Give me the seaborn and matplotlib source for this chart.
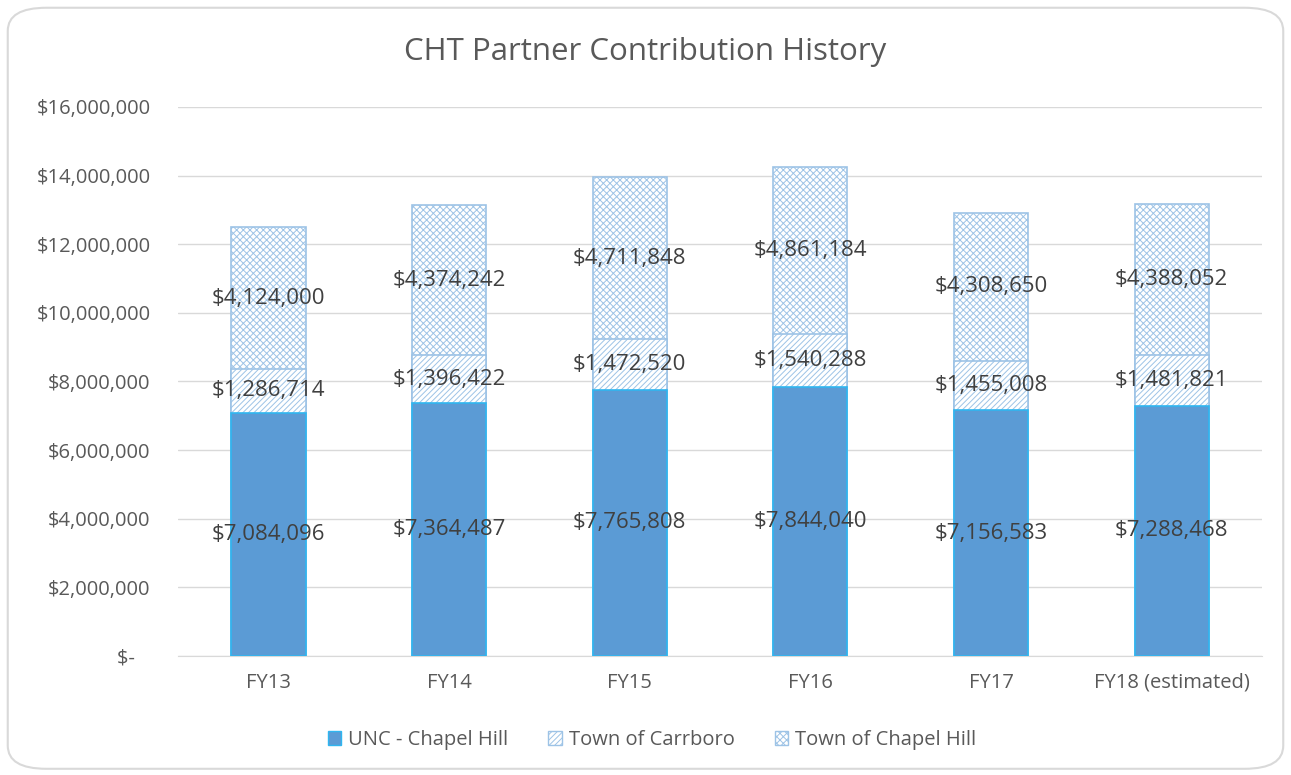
import numpy as np
import pandas as pd
import matplotlib
matplotlib.use("Agg")
import matplotlib.pyplot as plt
from matplotlib.patches import FancyBboxPatch, Patch
from matplotlib.ticker import FuncFormatter
import seaborn as sns

# data
years = ["FY13", "FY14", "FY15", "FY16", "FY17", "FY18 (estimated)"]
unc = [7084096, 7364487, 7765808, 7844040, 7156583, 7288468]
carrboro = [1286714, 1396422, 1472520, 1540288, 1455008, 1481821]
chapel_hill = [4124000, 4374242, 4711848, 4861184, 4308650, 4388052]
series_names = ["UNC - Chapel Hill", "Town of Carrboro", "Town of Chapel Hill"]

sns.set_style("white")
plt.rcParams["font.family"] = ["Open Sans", "DejaVu Sans"]
plt.rcParams["hatch.linewidth"] = 0.7

df = pd.DataFrame({"year": years, "unc": unc, "carr": carrboro, "ch": chapel_hill})
df["lvl2"] = df["unc"] + df["carr"]
df["lvl3"] = df["lvl2"] + df["ch"]

fig = plt.figure(figsize=(12.91, 7.75), dpi=100, facecolor="white")
fig.patches.append(FancyBboxPatch((0.006, 0.008), 0.988, 0.982, boxstyle="round,pad=0,rounding_size=0.03",
                                  transform=fig.transFigure, facecolor="none", edgecolor="#D9D9D9",
                                  linewidth=1.5, zorder=-1))
ax = fig.add_axes([0.138, 0.1535, 0.8395, 0.7085])
ax.set_facecolor("none")

light_edge = "#9DC3E6"
w = 0.41
# draw layers back to front so each stack segment shows
sns.barplot(data=df, x="year", y="lvl3", ax=ax, color="white", width=w, saturation=1,
            edgecolor=light_edge, hatch="xxxxx", linewidth=1.2, zorder=2)
sns.barplot(data=df, x="year", y="lvl2", ax=ax, color="white", width=w, saturation=1,
            edgecolor=light_edge, hatch="//////", linewidth=1.2, zorder=3)
sns.barplot(data=df, x="year", y="unc", ax=ax, color="#5B9BD5", width=w, saturation=1,
            edgecolor="#2FB6F0", linewidth=1.2, zorder=4)

lab_color = "#404040"
fs = 16
for i in range(len(years)):
    ax.text(i, unc[i] / 2, f"${unc[i]:,}", ha="center", va="center", fontsize=fs, color=lab_color, zorder=5)
    ax.text(i, unc[i] + carrboro[i] / 2, f"${carrboro[i]:,}", ha="center", va="center", fontsize=fs,
            color=lab_color, zorder=5)
    ax.text(i, df["lvl2"][i] + chapel_hill[i] / 2, f"${chapel_hill[i]:,}", ha="center", va="center",
            fontsize=fs, color=lab_color, zorder=5)

ax.set_ylim(0, 16000000)
ax.set_yticks(np.arange(0, 16000001, 2000000))
ax.yaxis.set_major_formatter(FuncFormatter(lambda v, p: "$-   " if v == 0 else f"${v:,.0f}"))
ax.grid(axis="y", color="#D9D9D9", linewidth=1, zorder=0)
ax.set_axisbelow(True)
for s in ["top", "right", "left"]:
    ax.spines[s].set_visible(False)
ax.spines["bottom"].set_color("#D9D9D9")
ax.tick_params(axis="both", length=0, labelsize=14.5, labelcolor="#595959")
ax.tick_params(axis="y", pad=20)
ax.tick_params(axis="x", pad=12)
ax.set_xlabel("")
ax.set_ylabel("")
ax.set_xlim(-0.5, 5.5)

fig.text(0.5, 0.933, "CHT Partner Contribution History", ha="center", va="center", fontsize=22.5, color="#595959")

handles = [Patch(facecolor="#5B9BD5", edgecolor="#2FB6F0"),
           Patch(facecolor="white", edgecolor=light_edge, hatch="//////"),
           Patch(facecolor="white", edgecolor=light_edge, hatch="xxxxx")]
fig.legend(handles, series_names, loc="center", bbox_to_anchor=(0.505, 0.045), ncol=3, frameon=False,
           fontsize=14.5, labelcolor="#595959", handlelength=0.65, handleheight=0.65, columnspacing=2.0,
           handletextpad=0.35)

fig.savefig("out.png", dpi=100)
